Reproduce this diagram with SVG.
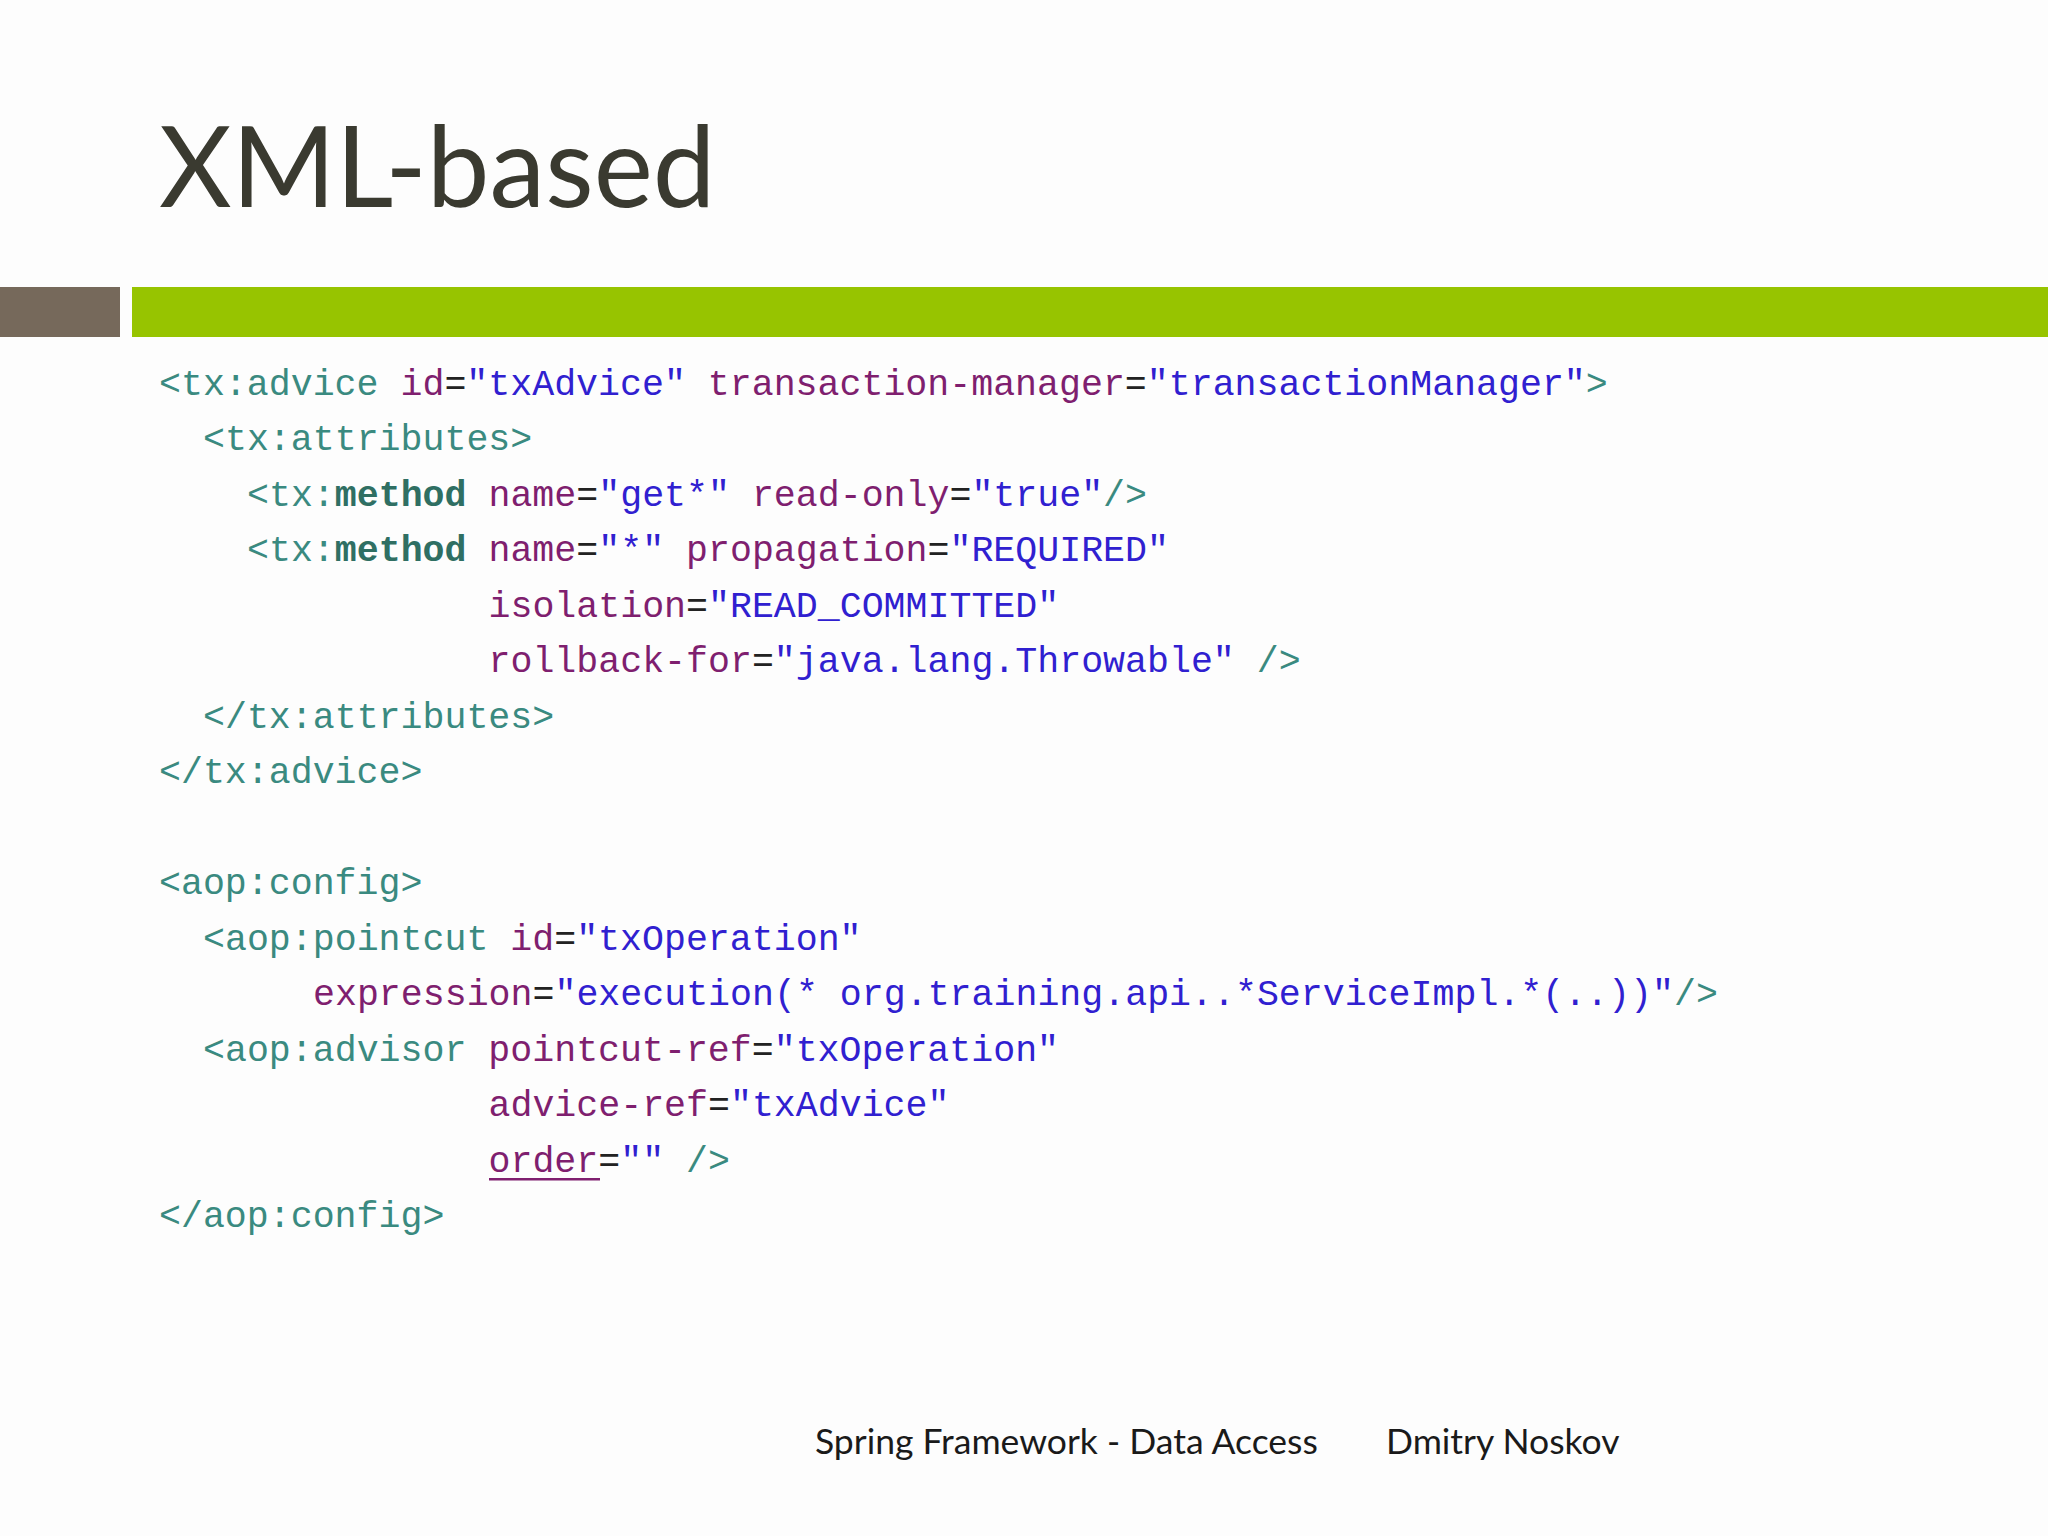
<svg xmlns="http://www.w3.org/2000/svg" width="2048" height="1536" viewBox="0 0 2048 1536">
<style>
.code{font-family:"Liberation Mono","Courier New",monospace;font-size:36.6px}
.t{fill:#3a8a80}.b{fill:#2f6f63;font-weight:bold}.a{fill:#7f1f6f}.v{fill:#3020d0}.e{fill:#222}
.foot{font-family:"Lato","Open Sans",sans-serif;font-size:35.5px;fill:#1a1a1a}
</style>
<rect width="2048" height="1536" fill="#fdfdfd"/>
<g id="title"><text x="159" y="207" font-family="Lato,'Open Sans',sans-serif" font-size="112" fill="#3a3a30">XML-based</text></g>
<g id="bars"><rect x="0" y="287" width="120" height="50" fill="#76695b"/><rect x="132" y="287" width="1916" height="50" fill="#97c400"/></g>
<g id="code" class="code" xml:space="preserve">
<text x="159" y="395"><tspan class="t">&lt;tx:advice </tspan><tspan class="a">id</tspan><tspan class="e">=</tspan><tspan class="v">"txAdvice"</tspan> <tspan class="a">transaction-manager</tspan><tspan class="e">=</tspan><tspan class="v">"transactionManager"</tspan><tspan class="t">&gt;</tspan></text>
<text x="203" y="450"><tspan class="t">&lt;tx:attributes&gt;</tspan></text>
<text x="247" y="506"><tspan class="t">&lt;tx:</tspan><tspan class="b">method</tspan> <tspan class="a">name</tspan><tspan class="e">=</tspan><tspan class="v">"get*"</tspan> <tspan class="a">read-only</tspan><tspan class="e">=</tspan><tspan class="v">"true"</tspan><tspan class="t">/&gt;</tspan></text>
<text x="247" y="561"><tspan class="t">&lt;tx:</tspan><tspan class="b">method</tspan> <tspan class="a">name</tspan><tspan class="e">=</tspan><tspan class="v">"*"</tspan> <tspan class="a">propagation</tspan><tspan class="e">=</tspan><tspan class="v">"REQUIRED"</tspan></text>
<text x="488.5" y="617"><tspan class="a">isolation</tspan><tspan class="e">=</tspan><tspan class="v">"READ_COMMITTED"</tspan></text>
<text x="488.5" y="672"><tspan class="a">rollback-for</tspan><tspan class="e">=</tspan><tspan class="v">"java.lang.Throwable"</tspan> <tspan class="t">/&gt;</tspan></text>
<text x="203" y="728"><tspan class="t">&lt;/tx:attributes&gt;</tspan></text>
<text x="159" y="783"><tspan class="t">&lt;/tx:advice&gt;</tspan></text>
<text x="159" y="894"><tspan class="t">&lt;aop:config&gt;</tspan></text>
<text x="203" y="950"><tspan class="t">&lt;aop:pointcut </tspan><tspan class="a">id</tspan><tspan class="e">=</tspan><tspan class="v">"txOperation"</tspan></text>
<text x="313" y="1005"><tspan class="a">expression</tspan><tspan class="e">=</tspan><tspan class="v">"execution(* org.training.api..*ServiceImpl.*(..))"</tspan><tspan class="t">/&gt;</tspan></text>
<text x="203" y="1061"><tspan class="t">&lt;aop:advisor </tspan><tspan class="a">pointcut-ref</tspan><tspan class="e">=</tspan><tspan class="v">"txOperation"</tspan></text>
<text x="488.5" y="1116"><tspan class="a">advice-ref</tspan><tspan class="e">=</tspan><tspan class="v">"txAdvice"</tspan></text>
<text x="488.5" y="1172"><tspan class="a">order</tspan><tspan class="e">=</tspan><tspan class="v">""</tspan> <tspan class="t">/&gt;</tspan></text>
<text x="159" y="1227"><tspan class="t">&lt;/aop:config&gt;</tspan></text>
</g>
<g id="underline"><rect x="489" y="1178" width="111" height="2.5" fill="#7f1f6f"/></g>
<g id="footer"><text class="foot" x="815" y="1454">Spring Framework - Data Access</text><text class="foot" x="1386" y="1454" fill="#3a3a30">Dmitry Noskov</text></g>
</svg>
